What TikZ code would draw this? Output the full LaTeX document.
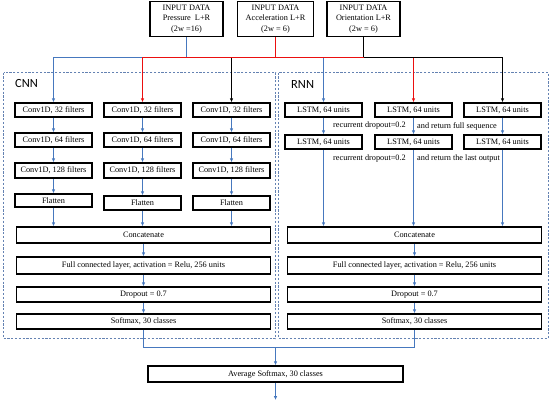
\documentclass[tikz,border=0pt]{standalone}
\usepackage{fontspec}
\setmainfont{Liberation Serif}
\newfontfamily\labfont{Carlito}
\usetikzlibrary{arrows.meta}
\definecolor{lblue}{RGB}{70,120,190}
\definecolor{dblue}{RGB}{100,130,178}
\definecolor{lred}{RGB}{235,15,15}
\begin{document}
\begin{tikzpicture}[x=1bp,y=-1bp,
  box/.style={draw, line width=1.5bp, inner sep=0pt, font=\fontsize{8.3}{10.6}\selectfont},
  inbox/.style={box, align=center},
  lab/.style={inner sep=0pt, font=\fontsize{8.3}{10}\selectfont},
  arr/.style={-{Latex[length=3.8bp,width=3.4bp]}, line width=1.5bp},
  wire/.style={line width=1.5bp},
  frame/.style={draw=dblue, dash pattern=on 2.2bp off 1.6bp, line width=0.9bp},
  title/.style={inner sep=0pt, anchor=west, font=\labfont\fontsize{12.5}{14}\selectfont}
]
\useasboundingbox (0,0) rectangle (550,402);

% frames
\draw[frame] (3.5,72.5) rectangle (275.5,338.5);
\draw[frame] (278.5,72.5) rectangle (548,338.5);
\node[title] (cnnlab) at (15,83) {CNN};
\node[title] (rnnlab) at (291,84) {RNN};

% inputs
\node[inbox, minimum width=73bp, minimum height=35bp] (in1) at (186.5,19) {INPUT DATA\\Pressure~ L+R\\(2w =16)};
\node[inbox, minimum width=76bp, minimum height=35bp] (in2) at (275.5,19) {INPUT DATA\\Acceleration L+R\\(2w = 6)};
\node[inbox, minimum width=73bp, minimum height=35bp] (in3) at (363.5,19) {INPUT DATA\\Orientation L+R\\(2w = 6)};

% CNN columns
\node[box, minimum width=77bp, minimum height=14bp] (c1a) at (53.5,110) {Conv1D, 32 filters};
\node[box, minimum width=77bp, minimum height=14bp] (c1b) at (53.5,140) {Conv1D, 64 filters};
\node[box, minimum width=77bp, minimum height=15bp] (c1c) at (53.5,170.5) {Conv1D, 128 filters};
\node[box, minimum width=77bp, minimum height=13bp] (c1d) at (53.5,200.5) {Flatten};

\node[box, minimum width=77bp, minimum height=14bp] (c2a) at (142.5,110) {Conv1D, 32 filters};
\node[box, minimum width=77bp, minimum height=14bp] (c2b) at (142.5,140) {Conv1D, 64 filters};
\node[box, minimum width=77bp, minimum height=15bp] (c2c) at (142.5,170.5) {Conv1D, 128 filters};
\node[box, minimum width=77bp, minimum height=14bp] (c2d) at (142.5,203) {Flatten};

\node[box, minimum width=77bp, minimum height=14bp] (c3a) at (231.5,110) {Conv1D, 32 filters};
\node[box, minimum width=77bp, minimum height=14bp] (c3b) at (231.5,140) {Conv1D, 64 filters};
\node[box, minimum width=77bp, minimum height=15bp] (c3c) at (231.5,170.5) {Conv1D, 128 filters};
\node[box, minimum width=77bp, minimum height=14bp] (c3d) at (231.5,203) {Flatten};

% CNN lower
\node[box, minimum width=254bp, minimum height=16bp] (cc) at (143.5,235) {Concatenate};
\node[box, minimum width=254bp, minimum height=17bp] (cf) at (143.5,265.5) {Full connected layer, activation = Relu, 256 units};
\node[box, minimum width=254bp, minimum height=15bp] (cd) at (143.5,294.5) {Dropout = 0.7};
\node[box, minimum width=254bp, minimum height=15bp] (cs) at (143.5,321.5) {Softmax, 30 classes};

% RNN columns
\node[box, minimum width=77bp, minimum height=14bp] (r1a) at (323.5,110) {LSTM, 64 units};
\node[box, minimum width=77bp, minimum height=14bp] (r1b) at (323.5,142) {LSTM, 64 units};
\node[box, minimum width=77bp, minimum height=14bp] (r2a) at (413.5,110) {LSTM, 64 units};
\node[box, minimum width=77bp, minimum height=14bp] (r2b) at (413.5,142) {LSTM, 64 units};
\node[box, minimum width=77bp, minimum height=14bp] (r3a) at (502.5,110) {LSTM, 64 units};
\node[box, minimum width=77bp, minimum height=14bp] (r3b) at (502.5,142) {LSTM, 64 units};

\node[lab, anchor=east] (t1) at (406,126) {recurrent dropout=0.2};
\node[lab, anchor=west] (t2) at (417,126) {and return full sequence};
\node[lab, anchor=east] (t3) at (406,159) {recurrent dropout=0.2};
\node[lab, anchor=west] (t4) at (417,159) {and return the last output};

% RNN lower
\node[box, minimum width=254bp, minimum height=16bp] (rc) at (414.5,235) {Concatenate};
\node[box, minimum width=254bp, minimum height=17bp] (rf) at (414.5,265.5) {Full connected layer, activation = Relu, 256 units};
\node[box, minimum width=254bp, minimum height=15bp] (rd) at (414.5,294.5) {Dropout = 0.7};
\node[box, minimum width=254bp, minimum height=15bp] (rs) at (414.5,321.5) {Softmax, 30 classes};

% average
\node[box, minimum width=255bp, minimum height=16bp] (avg) at (275.5,374) {Average Softmax, 30 classes};

\coordinate (bus) at (0,57.5);
\coordinate (m) at (275.5,347.5);
\coordinate (fin) at (275.5,400);

% input wiring
\draw[arr, draw=lblue] (in1.south) -- (in1.south |- bus) -| (c1a.north);
\draw[arr, draw=lblue] (in1.south |- bus) -| (r1a.north);
\draw[arr, draw=black] (in3.south) -- (in3.south |- bus) -| (c3a.north);
\draw[arr, draw=lred] (in2.south) -- (in2.south |- bus) -| (c2a.north);
\draw[arr, draw=lred] (in2.south |- bus) -| (r2a.north);
\draw[arr, draw=black] (in3.south |- bus) -| (r3a.north);

% column arrows
\foreach \c in {1,2,3}{
  \draw[arr, draw=lblue] (c\c a) -- (c\c b);
  \draw[arr, draw=lblue] (c\c b) -- (c\c c);
  \draw[arr, draw=lblue] (c\c c) -- (c\c d);
  \draw[arr, draw=lblue] (c\c d.south) -- (c\c d.south |- cc.north);
  \draw[arr, draw=lblue] (r\c a) -- (r\c b);
  \draw[arr, draw=lblue] (r\c b.south) -- (r\c b.south |- rc.north);
}
\draw[arr, draw=lblue] (cc) -- (cf);
\draw[arr, draw=lblue] (cf) -- (cd);
\draw[arr, draw=lblue] (cd) -- (cs);
\draw[arr, draw=lblue] (rc) -- (rf);
\draw[arr, draw=lblue] (rf) -- (rd);
\draw[arr, draw=lblue] (rd) -- (rs);

% merge
\draw[wire, draw=lblue] (cs.south) |- (m) -| (rs.south);
\draw[arr, draw=lblue] (m) -- (avg.north);
\draw[arr, draw=lblue] (avg.south) -- (fin);
\end{tikzpicture}
\end{document}
